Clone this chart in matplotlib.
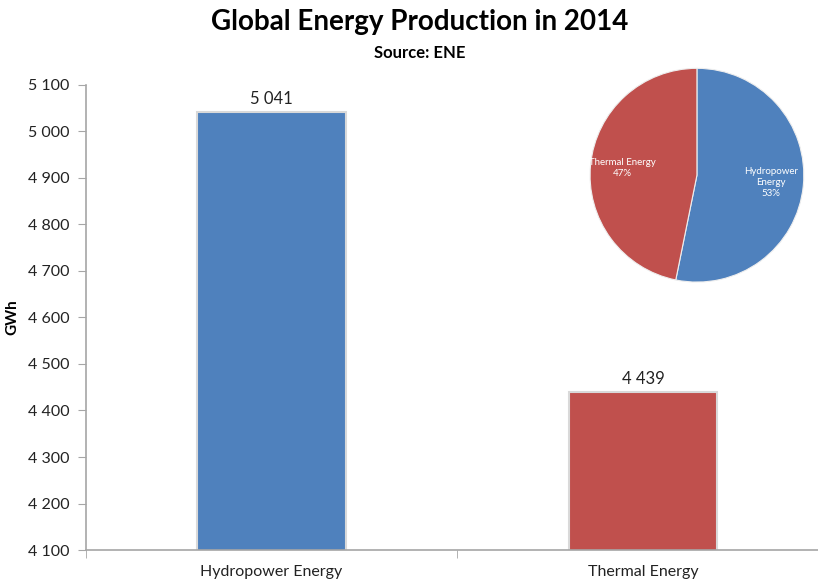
import numpy as np
import matplotlib.pyplot as plt
from matplotlib.ticker import FuncFormatter

plt.rcParams['font.family'] = ['Lato', 'DejaVu Sans']

# data
categories = ["Hydropower Energy", "Thermal Energy"]
production = [5041, 4439]
pie_labels = ["Hydropower\nEnergy", "Thermal Energy"]
colors = ["#4F81BD", "#C0504D"]


def spaced(v, pos=None):
    return f"{int(v):,}".replace(",", " ")


fig = plt.figure(figsize=(8.18, 5.84), dpi=100)

ax = fig.add_axes([0.105, 0.0582, 0.908, 0.7963])
x = range(len(categories))
ax.bar(x, production, width=0.4, bottom=0, color=colors,
       edgecolor="#D9D9D9", linewidth=1.5, zorder=2)
ax.set_ylim(4100, 5100)
ax.set_xlim(-0.5, 1.5)
ax.set_yticks(range(4100, 5101, 100))
ax.yaxis.set_major_formatter(FuncFormatter(spaced))
ax.set_xticks(list(x))
ax.set_xticklabels(categories)
ax.set_xticks([-0.5, 0.5, 1.5], minor=True)
ax.tick_params(axis="x", which="major", length=0, pad=11, labelsize=11.5, colors="#222222")
ax.tick_params(axis="x", which="minor", length=6, color="#A6A6A6")
ax.tick_params(axis="y", length=6, color="#A6A6A6", labelsize=11.5, labelcolor="#222222", pad=6)
for s in ["top", "right"]:
    ax.spines[s].set_visible(False)
for s in ["left", "bottom"]:
    ax.spines[s].set_color("#A6A6A6")
    ax.spines[s].set_linewidth(1.2)
ax.set_ylabel("GWh", fontsize=11, fontweight="bold", labelpad=6)

for i, v in enumerate(production):
    ax.text(i, v + 12, spaced(v), ha="center", va="bottom", fontsize=12, color="#222222")

fig.text(0.513, 0.962, "Global Energy Production in 2014", ha="center", va="center",
         fontsize=20, fontweight="bold")
fig.text(0.513, 0.909, "Source: ENE", ha="center", va="center",
         fontsize=12, fontweight="bold")

# inset pie
pax = fig.add_axes([0.721, 0.517, 0.262, 0.366])
total = sum(production)
wedges, texts = pax.pie(production, colors=colors, startangle=90, counterclock=False,
                        wedgeprops=dict(edgecolor="#EEEEEE", linewidth=0.8))
for w, lab, v in zip(wedges, pie_labels, production):
    ang = np.deg2rad((w.theta1 + w.theta2) / 2)
    pax.text(0.7 * np.cos(ang), 0.7 * np.sin(ang), f"{lab}\n{round(v / total * 100)}%",
             ha="center", va="center", fontsize=7, color="white", linespacing=1.3)
pax.set_xlim(-1, 1)
pax.set_ylim(-1, 1)
pax.set_aspect("equal")

fig.savefig("out.png", dpi=100)
